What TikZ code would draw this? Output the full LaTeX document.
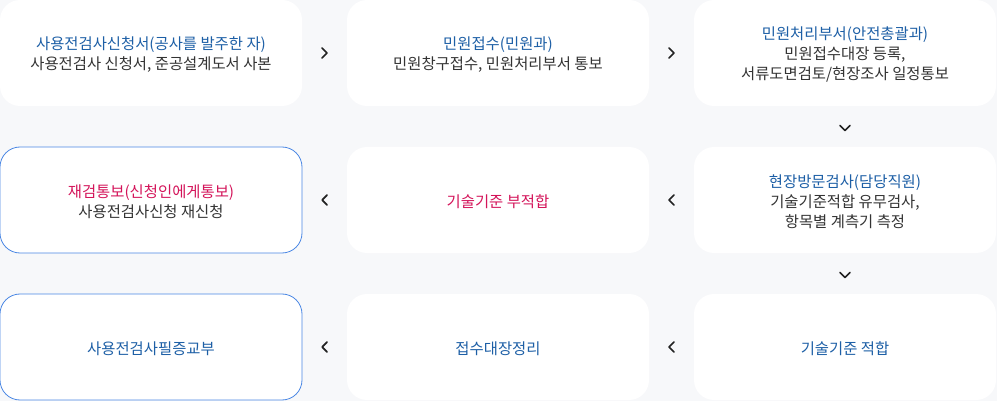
\documentclass[tikz,border=0pt]{standalone}
\usepackage{fontspec}
\setmainfont{Noto Sans CJK KR}
\usetikzlibrary{calc}
\definecolor{bgc}{HTML}{F7F8FA}
\definecolor{tblue}{HTML}{1D5FA6}
\definecolor{tpink}{HTML}{D4145A}
\definecolor{tdark}{HTML}{333333}
\definecolor{bdr}{HTML}{4A87E4}
\definecolor{chevc}{HTML}{222222}
\tikzset{
  stepbox/.style={fill=white, rounded corners=20pt, minimum width=302pt, minimum height=106pt,
    inner sep=0pt},
  hlbox/.style={stepbox, draw=bdr, line width=0.8pt},
  steptext/.style={align=center, inner sep=0pt, font=\fontsize{15.4}{20}\selectfont, text=tdark},
  chev/.style={draw=chevc, line width=1.7pt, line cap=round, line join=round},
}
\newcommand{\bl}[1]{\textcolor{tblue}{#1}}
\newcommand{\pk}[1]{\textcolor{tpink}{#1}}
\begin{document}
\begin{tikzpicture}[x=1pt,y=-1pt]
\fill[bgc] (0,0) rectangle (997,401);
\useasboundingbox (0,0) rectangle (997,401);
% boxes
\node[stepbox] (a1) at (151,53) {};
\node[stepbox] (a2) at (498,53) {};
\node[stepbox] (a3) at (845,53) {};
\node[hlbox] (b1) at (151,200) {};
\node[stepbox] (b2) at (498,200) {};
\node[stepbox] (b3) at (845,200) {};
\node[hlbox] (c1) at (151,347) {};
\node[stepbox] (c2) at (498,347) {};
\node[stepbox] (c3) at (845,347) {};
% texts
\node[steptext] (ta1) at ($(a1.center)+(0,1.5)$) {\bl{사용전검사신청서(공사를 발주한 자)}\\사용전검사 신청서, 준공설계도서 사본};
\node[steptext] (ta2) at ($(a2.center)+(0,1.5)$) {\bl{민원접수(민원과)}\\민원창구접수, 민원처리부서 통보};
\node[steptext] (ta3) at ($(a3.center)+(0,1.5)$) {\bl{민원처리부서(안전총괄과)}\\민원접수대장 등록,\\서류도면검토/현장조사 일정통보};
\node[steptext] (tb1) at ($(b1.center)+(0,1.5)$) {\pk{재검통보(신청인에게통보)}\\사용전검사신청 재신청};
\node[steptext] (tb2) at ($(b2.center)+(0,1.5)$) {\pk{기술기준 부적합}};
\node[steptext] (tb3) at ($(b3.center)+(0,1.5)$) {\bl{현장방문검사(담당직원)}\\기술기준적합 유무검사,\\항목별 계측기 측정};
\node[steptext] (tc1) at ($(c1.center)+(0,1.5)$) {\bl{사용전검사필증교부}};
\node[steptext] (tc2) at ($(c2.center)+(0,1.5)$) {\bl{접수대장정리}};
\node[steptext] (tc3) at ($(c3.center)+(0,1.5)$) {\bl{기술기준 적합}};
% chevrons
\path (a1.east) -- (a2.west) coordinate[midway] (m12);
\path (a2.east) -- (a3.west) coordinate[midway] (m23);
\path (a3.south) -- (b3.north) coordinate[midway] (m33);
\path (b3.west) -- (b2.east) coordinate[midway] (n32);
\path (b2.west) -- (b1.east) coordinate[midway] (n21);
\path (b3.south) -- (c3.north) coordinate[midway] (n33);
\path (c3.west) -- (c2.east) coordinate[midway] (p32);
\path (c2.west) -- (c1.east) coordinate[midway] (p21);
\foreach \p in {m12,m23}{
  \draw[chev] ($(\p)+(-2.5,-5)$) -- ($(\p)+(2.5,0)$) -- ($(\p)+(-2.5,5)$);
}
\foreach \p in {n32,n21,p32,p21}{
  \draw[chev] ($(\p)+(2.5,-5)$) -- ($(\p)+(-2.5,0)$) -- ($(\p)+(2.5,5)$);
}
\foreach \p in {m33,n33}{
  \draw[chev] ($(\p)+(-5,-1)$) -- ($(\p)+(0,4)$) -- ($(\p)+(5,-1)$);
}
\end{tikzpicture}
\end{document}
